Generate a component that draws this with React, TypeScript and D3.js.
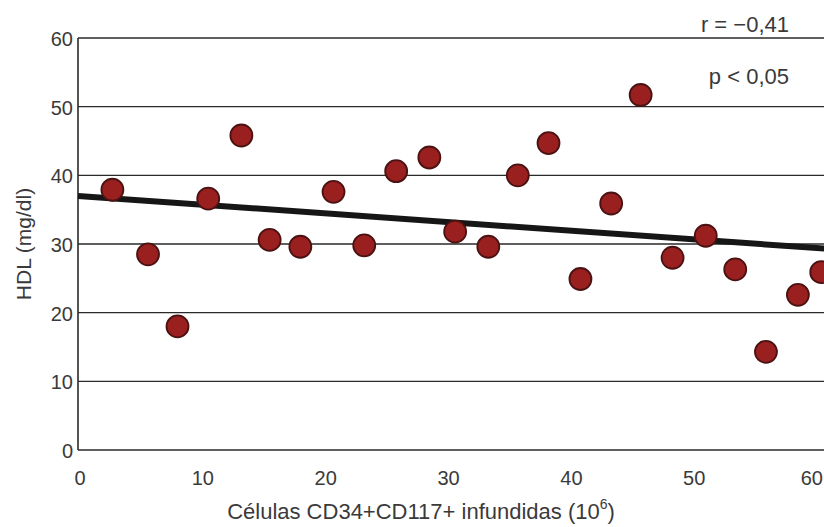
import React, { useEffect, useRef } from 'react';
import * as d3 from 'd3';

// valores
const cells = [2.8, 5.7, 8.1, 10.6, 13.3, 15.6, 18.1, 20.8, 23.3, 25.9, 28.6, 30.7, 33.4, 35.8, 38.3, 40.9, 43.4, 45.8, 48.4, 51.1, 53.5, 56.0, 58.6, 60.5];
const hdl = [37.9, 28.5, 18.0, 36.6, 45.8, 30.6, 29.6, 37.6, 29.8, 40.6, 42.6, 31.8, 29.6, 40.0, 44.7, 24.9, 35.9, 51.7, 28.0, 31.2, 26.3, 14.3, 22.6, 25.9];
const trendX = [0, 61];
const trendY = [37.0, 29.3];
const yTicks = [0, 10, 20, 30, 40, 50, 60];
const xTicks = [0, 10, 20, 30, 40, 50, 60];

const W = 824;
const H = 527;
const margin = { top: 38, right: 4, bottom: 77, left: 78 };

const App = () => {
  const ref = useRef<SVGSVGElement>(null);

  useEffect(() => {
    const svg = d3.select(ref.current);
    svg.selectAll('*').remove();

    const x = d3.scaleLinear().domain([0, 60.4]).range([margin.left, W - margin.right]);
    const y = d3.scaleLinear().domain([0, 60]).range([H - margin.bottom, margin.top]);

    const font = '"Liberation Sans", Arial, sans-serif';
    const txt = '#3a3a3a';

    // linhas de grade
    svg.append('g')
      .selectAll('line')
      .data(yTicks.filter(d => d > 0))
      .enter()
      .append('line')
      .attr('x1', margin.left)
      .attr('x2', W)
      .attr('y1', d => y(d))
      .attr('y2', d => y(d))
      .attr('stroke', '#2a2a2a')
      .attr('stroke-width', 1.4);

    // eixos
    svg.append('line')
      .attr('x1', margin.left).attr('x2', margin.left)
      .attr('y1', y(60)).attr('y2', y(0))
      .attr('stroke', '#2a2a2a').attr('stroke-width', 1.6);
    svg.append('line')
      .attr('x1', margin.left).attr('x2', W)
      .attr('y1', y(0)).attr('y2', y(0))
      .attr('stroke', '#2a2a2a').attr('stroke-width', 1.6);

    svg.append('g')
      .selectAll('text')
      .data(yTicks)
      .enter()
      .append('text')
      .attr('x', margin.left - 5)
      .attr('y', d => y(d) + 8)
      .attr('text-anchor', 'end')
      .attr('font-family', font)
      .attr('font-size', 20)
      .attr('fill', txt)
      .text(d => d);

    // o último rótulo encosta na borda direita
    svg.append('g')
      .selectAll('text')
      .data(xTicks)
      .enter()
      .append('text')
      .attr('x', (d, i) => (i === xTicks.length - 1 ? W - 1 : x(d) + 2))
      .attr('y', y(0) + 35)
      .attr('text-anchor', (d, i) => (i === xTicks.length - 1 ? 'end' : 'middle'))
      .attr('font-family', font)
      .attr('font-size', 20)
      .attr('fill', txt)
      .text(d => d);

    // título x
    const xl = svg.append('text')
      .attr('x', 421)
      .attr('y', 519)
      .attr('text-anchor', 'middle')
      .attr('font-family', font)
      .attr('font-size', 22)
      .attr('fill', txt);
    xl.append('tspan').text('Células CD34+CD117+ infundidas (10');
    xl.append('tspan').attr('font-size', 14).attr('dy', -10).text('6');
    xl.append('tspan').attr('dy', 10).text(')');

    svg.append('text')
      .attr('transform', `translate(31,${(y(0) + y(60)) / 2}) rotate(-90)`)
      .attr('text-anchor', 'middle')
      .attr('font-family', font)
      .attr('font-size', 21)
      .attr('fill', txt)
      .text('HDL (mg/dl)');

    // linha de tendência
    const line = d3.line<number>()
      .x((d, i) => x(trendX[i]))
      .y(d => y(d));
    svg.append('path')
      .datum(trendY)
      .attr('d', line)
      .attr('fill', 'none')
      .attr('stroke', '#161616')
      .attr('stroke-width', 6);

    // pontos
    svg.append('g')
      .selectAll('circle')
      .data(hdl)
      .enter()
      .append('circle')
      .attr('cx', (d, i) => x(cells[i]))
      .attr('cy', d => y(d))
      .attr('r', 11)
      .attr('fill', '#9a1f1f')
      .attr('stroke', '#4a1212')
      .attr('stroke-width', 1.8);

    svg.append('text')
      .attr('x', 789)
      .attr('y', 32)
      .attr('text-anchor', 'end')
      .attr('font-family', font)
      .attr('font-size', 22)
      .attr('fill', txt)
      .text('r = \u22120,41');

    svg.append('text')
      .attr('x', 789)
      .attr('y', 84)
      .attr('text-anchor', 'end')
      .attr('font-family', font)
      .attr('font-size', 22)
      .attr('fill', txt)
      .text('p < 0,05');
  }, []);

  return (
    <svg
      ref={ref}
      width={W}
      height={H}
      style={{ position: 'absolute', left: 0, top: 0, background: '#fff' }}
    />
  );
};

export default App;
